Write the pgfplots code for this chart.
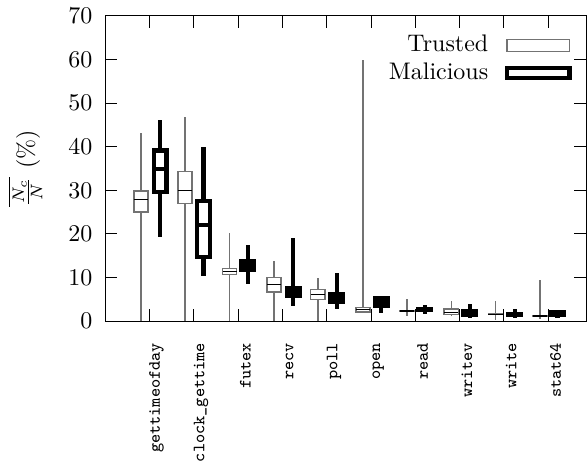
\documentclass[border=0pt]{standalone}
\usepackage{pgfplots}
\pgfplotsset{compat=1.18}
\usepgfplotslibrary{statistics}

\pgfplotsset{
  trusted/.style={draw=black!55, line width=0.6pt, solid,
    boxplot/draw direction=y,
    boxplot/whisker extend=0, boxplot/box extend=0.32,
    boxplot/every median/.style={draw=black, line width=0.5pt}},
  malicious/.style={draw=black, line width=1.75pt, solid,
    boxplot/draw direction=y,
    boxplot/whisker extend=0, boxplot/box extend=0.29,
    boxplot/every median/.style={draw=black, line width=1.75pt}},
  solidbox/.style={draw=black, fill=black, line width=1.75pt, no markers, forget plot},
}

\begin{document}
\begin{tikzpicture}
\begin{axis}[
    width=200.8pt, height=127.5pt, scale only axis,
    xmin=0, xmax=10.86,
    ymin=0, ymax=70,
    ytick={0,10,...,70},
    xtick={1,...,10},
    xticklabels={gettimeofday,clock\_gettime,futex,recv,poll,open,read,writev,write,stat64},
    xticklabel style={font=\fontsize{7.2}{8}\selectfont\ttfamily, xshift=3pt, yshift=-5.5pt, rotate=90, anchor=east},
    yticklabel style={font=\normalsize, xshift=-1.8pt},
    tick align=inside,
    major tick length=5pt,
    tick style={black, line width=0.4pt},
    axis line style={line width=0.5pt},
    ylabel={$\overline{\frac{N_c}{N}}$ (\%)},
    ylabel style={yshift=4pt},
    legend style={draw=none, fill=none, at={(1,1)}, anchor=north east,
      xshift=-3pt, yshift=-4pt, font=\normalsize, row sep=-1pt,
      /tikz/every odd column/.append style={column sep=5pt}},
    legend plot pos=right,
    legend cell align=right,
]
\addlegendimage{legend image code/.code={\draw[black!55, line width=0.6pt] (0pt,-2.5pt) rectangle (26pt,2.5pt);}}
\addlegendentry{Trusted}
\addlegendimage{legend image code/.code={\draw[black, line width=1.75pt] (0pt,-2.2pt) rectangle (26pt,2.2pt);}}
\addlegendentry{Malicious}

% trusted
\addplot[trusted, boxplot prepared={draw position=0.81, lower whisker=0, lower quartile=25.0, median=27.9, upper quartile=29.8, upper whisker=43.2}] coordinates {};
\addplot[trusted, boxplot prepared={draw position=1.80, lower whisker=0, lower quartile=27.0, median=30.0, upper quartile=34.3, upper whisker=46.8}] coordinates {};
\addplot[trusted, boxplot prepared={draw position=2.81, lower whisker=0, lower quartile=10.75, median=11.4, upper quartile=12.05, upper whisker=20.3}] coordinates {};
\addplot[trusted, boxplot prepared={draw position=3.81, lower whisker=0, lower quartile=6.7, median=8.4, upper quartile=10.0, upper whisker=13.8}] coordinates {};
\addplot[trusted, boxplot prepared={draw position=4.80, lower whisker=0, lower quartile=5.0, median=6.2, upper quartile=7.25, upper whisker=10.0}] coordinates {};
\addplot[trusted, boxplot prepared={draw position=5.82, lower whisker=1.8, lower quartile=2.1, median=2.75, upper quartile=3.2, upper whisker=59.9}] coordinates {};
\addplot[trusted, boxplot prepared={draw position=6.81, lower whisker=1.2, lower quartile=2.25, median=2.35, upper quartile=2.45, upper whisker=5.0}] coordinates {};
\addplot[trusted, boxplot prepared={draw position=7.81, lower whisker=1.2, lower quartile=1.5, median=2.1, upper quartile=2.85, upper whisker=4.6}] coordinates {};
\addplot[trusted, boxplot prepared={draw position=8.81, lower whisker=0.3, lower quartile=1.5, median=1.6, upper quartile=1.7, upper whisker=4.6}] coordinates {};
\addplot[trusted, boxplot prepared={draw position=9.81, lower whisker=0.45, lower quartile=1.1, median=1.2, upper quartile=1.3, upper whisker=9.4}] coordinates {};

% malicious
\addplot[malicious, boxplot prepared={draw position=1.24, lower whisker=19.2, lower quartile=29.7, median=34.8, upper quartile=39.1, upper whisker=46.2}] coordinates {};
\addplot[malicious, boxplot prepared={draw position=2.22, lower whisker=10.4, lower quartile=14.7, median=22.0, upper quartile=27.5, upper whisker=39.9}] coordinates {};
\addplot[malicious, boxplot prepared={draw position=3.22, lower whisker=8.5, lower quartile=11.85, median=12.8, upper quartile=13.9, upper whisker=17.5}] coordinates {};
\addplot[malicious, boxplot prepared={draw position=4.24, lower whisker=3.5, lower quartile=5.7, median=6.5, upper quartile=7.5, upper whisker=19.1}] coordinates {};
\addplot[malicious, boxplot prepared={draw position=5.23, lower whisker=2.75, lower quartile=4.55, median=5.3, upper quartile=6.25, upper whisker=11.1}] coordinates {};
\addplot[malicious, boxplot prepared={draw position=6.23, lower whisker=2.0, lower quartile=3.55, median=4.4, upper quartile=5.35, upper whisker=5.4}] coordinates {};
\addplot[malicious, boxplot prepared={draw position=7.21, lower whisker=1.75, lower quartile=2.5, median=2.7, upper quartile=2.9, upper whisker=3.7}] coordinates {};
\addplot[malicious, boxplot prepared={draw position=8.23, lower whisker=0.85, lower quartile=1.45, median=1.9, upper quartile=2.3, upper whisker=3.9}] coordinates {};
\addplot[malicious, boxplot prepared={draw position=9.24, lower whisker=0.7, lower quartile=1.45, median=1.6, upper quartile=1.75, upper whisker=2.75}] coordinates {};
\addplot[malicious, boxplot prepared={draw position=10.21, lower whisker=0.7, lower quartile=1.45, median=1.75, upper quartile=2.05, upper whisker=2.5}] coordinates {};

% the small malicious boxes look solid in the original
\addplot[solidbox] coordinates {(3.075,11.85) (3.365,11.85) (3.365,13.9) (3.075,13.9)} -- cycle;
\addplot[solidbox] coordinates {(4.095,5.7) (4.385,5.7) (4.385,7.5) (4.095,7.5)} -- cycle;
\addplot[solidbox] coordinates {(5.085,4.55) (5.375,4.55) (5.375,6.25) (5.085,6.25)} -- cycle;
\addplot[solidbox] coordinates {(6.085,3.55) (6.375,3.55) (6.375,5.35) (6.085,5.35)} -- cycle;
\addplot[solidbox] coordinates {(7.065,2.5) (7.355,2.5) (7.355,2.9) (7.065,2.9)} -- cycle;
\addplot[solidbox] coordinates {(8.085,1.45) (8.375,1.45) (8.375,2.3) (8.085,2.3)} -- cycle;
\addplot[solidbox] coordinates {(9.095,1.45) (9.385,1.45) (9.385,1.75) (9.095,1.75)} -- cycle;
\addplot[solidbox] coordinates {(10.065,1.45) (10.355,1.45) (10.355,2.05) (10.065,2.05)} -- cycle;
\end{axis}
\end{tikzpicture}
\end{document}
